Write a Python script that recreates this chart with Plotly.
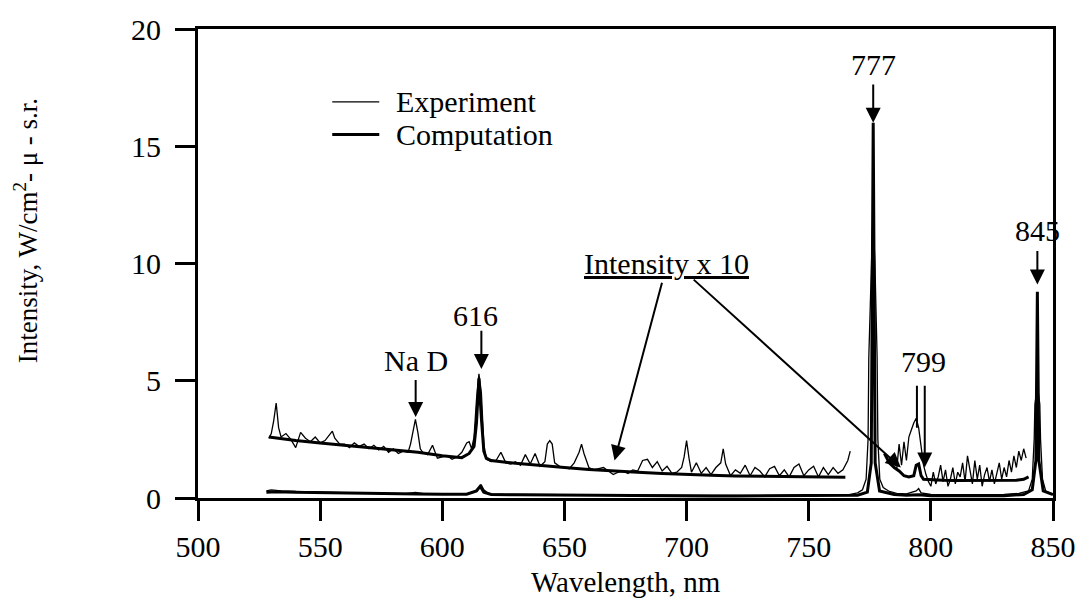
import plotly.graph_objects as go

FONT = "Liberation Serif"

# ---------------- data ----------------
# Experiment, intensity x 10, left part
wl_exp10_a = [529, 530, 531, 532, 533, 534, 536, 538, 540, 542,
              544, 546, 548, 550, 552, 554, 555, 556, 558, 560,
              562, 564, 566, 568, 570, 572, 574, 576, 578, 580,
              582, 584, 586, 587, 588, 589, 590, 591, 592, 594,
              596, 598, 600, 602, 604, 606, 608, 610, 611, 612,
              613, 614, 615, 616, 617, 618, 619, 620, 622, 624,
              626, 628, 630, 632, 634, 636, 638, 640, 642, 643,
              644, 645, 646, 648, 650, 652, 654, 656, 657, 658,
              660, 662, 664, 666, 668, 670, 672, 674, 676, 678,
              680, 682, 684, 686, 688, 690, 692, 694, 696, 698,
              699, 700, 701, 702, 704, 706, 708, 710, 712, 714,
              715, 716, 718, 720, 722, 724, 726, 728, 730, 732,
              734, 736, 738, 740, 742, 744, 746, 748, 750, 752,
              754, 756, 758, 760, 762, 764, 766, 767]
exp10_a = [2.55, 2.75, 3.3, 4.05, 3.0, 2.6, 2.75, 2.5, 2.15, 2.8,
           2.55, 2.4, 2.6, 2.35, 2.45, 2.7, 2.85, 2.55, 2.3, 2.3,
           2.15, 2.35, 2.2, 2.3, 2.1, 2.25, 2.05, 2.2, 1.95, 2.1,
           1.9, 2.0, 1.95, 2.3, 2.9, 3.35, 2.8, 2.1, 1.95, 1.85,
           2.25, 1.7, 1.75, 1.8, 1.65, 1.75, 1.95, 2.35, 2.4, 2.1,
           2.6, 4.2, 5.3, 4.5, 2.3, 1.65, 1.6, 1.55, 1.6, 1.95,
           1.5, 1.45, 1.55, 1.4, 1.85, 1.45, 1.9, 1.35, 1.55, 2.3,
           2.45, 2.3, 1.5, 1.35, 1.3, 1.25, 1.5, 1.95, 2.3, 1.9,
           1.3, 1.2, 1.25, 1.3, 1.15, 1.0, 1.1, 1.15, 1.05, 1.2,
           1.15, 1.6, 1.65, 1.3, 1.55, 1.15, 1.35, 1.05, 1.1, 1.3,
           1.75, 2.45, 1.7, 1.1, 1.5, 1.05, 1.3, 1.0, 1.3, 1.5,
           2.1, 1.45, 0.95, 1.2, 1.05, 1.4, 0.95, 1.3, 1.15, 0.9,
           1.25, 1.35, 0.95, 1.2, 0.9, 1.3, 1.45, 0.95, 1.2, 1.35,
           0.9, 1.3, 1.0, 1.3, 1.05, 1.2, 1.6, 2.0]

# Experiment, intensity x 10, right part
wl_exp10_b = [786, 787, 788, 789, 790, 791, 792, 793, 794, 795,
              796, 797, 798, 799, 800, 801, 802, 803, 804, 805,
              806, 807, 808, 809, 810, 811, 812, 813, 814, 815,
              816, 817, 818, 819, 820, 821, 822, 823, 824, 825,
              826, 827, 828, 829, 830, 831, 832, 833, 834, 835,
              836, 837, 838, 839]
exp10_b = [1.2, 2.3, 1.4, 2.4, 1.6, 2.6, 2.9, 3.2, 3.4, 3.0,
           2.2, 1.4, 1.0, 0.7, 0.5, 1.1, 0.6, 0.9, 1.4, 0.7,
           1.2, 0.5, 0.8, 1.3, 0.6, 1.1, 0.9, 1.5, 0.7, 1.8,
           1.2, 0.6, 1.6, 0.8, 1.4, 0.5, 1.0, 1.3, 0.7, 1.2,
           0.6, 1.1, 1.5, 0.8, 1.3, 0.9, 1.6, 1.1, 1.8, 1.3,
           2.0, 1.6, 2.1, 1.7]

# Computation, intensity x 10
wl_comp10_a = [529, 540, 550, 560, 570, 580, 590, 600, 608, 611,
               613, 614, 615, 616, 617, 618, 620, 630, 640, 650,
               660, 670, 680, 690, 700, 710, 720, 730, 740, 750,
               760, 765]
comp10_a = [2.6, 2.45, 2.35, 2.25, 2.15, 2.05, 1.95, 1.8, 1.72, 1.9,
            2.2, 3.2, 5.1, 3.4, 2.0, 1.7, 1.6, 1.48, 1.38, 1.3,
            1.22, 1.15, 1.1, 1.05, 1.0, 0.97, 0.94, 0.92, 0.9, 0.88,
            0.87, 0.88]
wl_comp10_b = [781, 783, 785, 787, 789, 791, 793, 794, 795, 796,
               797, 800, 805, 810, 815, 820, 825, 830, 835, 838, 840]
comp10_b = [1.9, 1.5, 1.3, 1.15, 0.95, 0.9, 0.95, 1.4, 1.45, 0.95,
            0.8, 0.78, 0.76, 0.75, 0.75, 0.74, 0.74, 0.75, 0.76, 0.8, 0.9]

# Experiment, actual intensity
wl_exp = [528, 530, 534, 538, 542, 546, 550, 555, 560, 565,
          570, 575, 580, 585, 589, 593, 600, 605, 610, 613,
          615, 616, 617, 619, 625, 630, 640, 650, 660, 670,
          680, 690, 700, 710, 720, 730, 740, 750, 760, 766,
          770, 772, 773.5, 774.3, 774.6, 775.5, 776.3, 777.1, 778, 778.3,
          779.1, 780.5, 783, 786, 790, 794, 795, 796, 800, 810,
          820, 830, 836, 840, 841.5, 842.3, 842.6, 843.6, 844.6, 844.9,
          845.7, 847, 850]
exp_raw = [0.3, 0.35, 0.3, 0.28, 0.27, 0.25, 0.25, 0.24, 0.22, 0.22,
           0.2, 0.2, 0.19, 0.19, 0.24, 0.18, 0.17, 0.17, 0.18, 0.25,
           0.45, 0.55, 0.35, 0.18, 0.16, 0.15, 0.15, 0.14, 0.13, 0.13,
           0.12, 0.12, 0.14, 0.11, 0.11, 0.1, 0.1, 0.1, 0.11, 0.13,
           0.22, 0.35, 0.8, 2.5, 6.0, 10.0, 12.2, 10.0, 6.0, 2.5,
           0.8, 0.45, 0.28, 0.2, 0.18, 0.3, 0.4, 0.22, 0.15, 0.14,
           0.14, 0.15, 0.2, 0.3, 0.8, 2.5, 4.0, 4.8, 4.0, 2.5,
           0.8, 0.3, 0.15]

# Computation, actual intensity
wl_comp = [528, 532, 540, 550, 560, 570, 580, 590, 600, 610,
           614, 615.5, 617, 620, 630, 640, 650, 660, 670, 680,
           690, 700, 710, 720, 730, 740, 750, 760, 770, 774,
           775.6, 776.4, 777.2, 779, 785, 790, 795, 800, 810, 820,
           830, 838, 841.5, 843, 843.6, 844.2, 846, 850]
comp_raw = [0.25, 0.27, 0.24, 0.22, 0.2, 0.19, 0.18, 0.17, 0.16, 0.16,
            0.3, 0.5, 0.25, 0.15, 0.14, 0.13, 0.12, 0.11, 0.11, 0.1,
            0.1, 0.1, 0.09, 0.09, 0.09, 0.09, 0.09, 0.1, 0.12, 0.25,
            1.5, 16.0, 1.5, 0.3, 0.15, 0.12, 0.14, 0.1, 0.09, 0.09,
            0.1, 0.15, 0.35, 1.6, 8.8, 1.6, 0.3, 0.15]

x_ticks = [500, 550, 600, 650, 700, 750, 800, 850]
y_ticks = [0, 5, 10, 15, 20]

labels = ["777", "845", "616", "Na D", "799", "<u>Intensity x 10</u>"]
label_pos = [(776.4, 18.5), (843.6, 11.4), (613.6, 7.8), (589.1, 5.88),
             (797.1, 5.8), (691.7, 10.0)]
# arrows: tip x, tip y, tail x, tail y, head?
arrows = [(776.4, 16.0, 776.4, 17.7, True),
          (843.6, 9.1, 843.6, 10.6, True),
          (616.0, 5.5, 616.0, 7.2, True),
          (589.1, 3.45, 589.1, 5.1, True),
          (794.3, 3.0, 794.3, 4.85, False),
          (797.5, 1.3, 797.5, 4.85, True),
          (670.5, 1.6, 690.1, 9.24, True),
          (787.7, 1.3, 702.3, 9.37, True)]

# ---------------- figure ----------------
fig = go.Figure()
fig.add_trace(go.Scatter(x=wl_exp10_a + [None] + wl_exp10_b,
                         y=exp10_a + [None] + exp10_b,
                         mode="lines", line=dict(color="black", width=1.3),
                         name="Experiment", showlegend=False))
fig.add_trace(go.Scatter(x=wl_exp, y=exp_raw, mode="lines",
                         line=dict(color="black", width=1.3),
                         name="Experiment", showlegend=False))
fig.add_trace(go.Scatter(x=wl_comp10_a + [None] + wl_comp10_b,
                         y=comp10_a + [None] + comp10_b,
                         mode="lines", line=dict(color="black", width=3),
                         name="Computation", showlegend=False))
fig.add_trace(go.Scatter(x=wl_comp, y=comp_raw, mode="lines",
                         line=dict(color="black", width=3),
                         name="Computation", showlegend=False))

annotations = []
for txt, (lx, ly) in zip(labels, label_pos):
    annotations.append(dict(x=lx, y=ly, xref="x", yref="y", text=txt,
                            showarrow=False, xanchor="center", yanchor="middle",
                            font=dict(family=FONT, size=30, color="black")))
for tx, ty, ax, ay, head in arrows:
    annotations.append(dict(x=tx, y=ty, ax=ax, ay=ay, xref="x", yref="y",
                            axref="x", ayref="y", text="", showarrow=True,
                            arrowhead=2 if head else 0, arrowsize=1.5,
                            arrowwidth=2, arrowcolor="black", standoff=0,
                            startstandoff=0))

# legend (drawn by hand)
legend_items = [("Experiment", 0.8445, 1.3), ("Computation", 0.775, 3)]
shapes = []
for name, ly, w in legend_items:
    shapes.append(dict(type="line", xref="paper", yref="paper",
                       x0=0.157, x1=0.212, y0=ly, y1=ly,
                       line=dict(color="black", width=w)))
    annotations.append(dict(x=0.229, y=ly, xref="paper", yref="paper",
                            text=name, showarrow=False, xanchor="left",
                            yanchor="middle",
                            font=dict(family=FONT, size=30, color="black")))

# axis titles
annotations.append(dict(x=0.5, y=-0.18, xref="paper", yref="paper",
                        text="Wavelength, nm", showarrow=False,
                        xanchor="center", yanchor="middle",
                        font=dict(family=FONT, size=29, color="black")))
annotations.append(dict(x=-0.201, y=0.569, xref="paper", yref="paper",
                        text="Intensity, W/cm<sup>2</sup>- μ - s.r.",
                        textangle=-90, showarrow=False,
                        xanchor="center", yanchor="middle",
                        font=dict(family=FONT, size=27, color="black")))

axis_common = dict(showgrid=False, zeroline=False, showline=True,
                   linecolor="black", linewidth=3, mirror=True,
                   ticks="outside", ticklen=20, tickwidth=2.5,
                   tickcolor="black",
                   tickfont=dict(family=FONT, size=30, color="black"))

fig.update_layout(
    width=1088, height=603, autosize=False,
    margin=dict(l=198, r=30, t=22, b=105),
    paper_bgcolor="white", plot_bgcolor="white",
    xaxis=dict(range=[500, 850], tickvals=x_ticks, ticklabelstandoff=0,
               **axis_common),
    yaxis=dict(range=[0, 20], tickvals=y_ticks, ticklabelstandoff=8,
               **axis_common),
    annotations=annotations, shapes=shapes,
    showlegend=False,
)

fig.write_html("out.html")
